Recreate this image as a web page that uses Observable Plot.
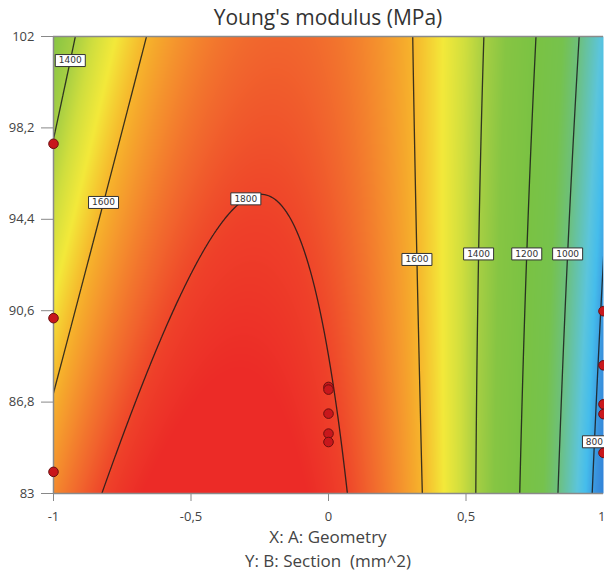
<!DOCTYPE html>
<html>
<head>
<meta charset="utf-8">
<script src="https://cdn.jsdelivr.net/npm/d3@7"></script>
<script src="https://cdn.jsdelivr.net/npm/@observablehq/plot@0.6"></script>
<style>
  body { margin: 0; background: #fff; font-family: "Open Sans", sans-serif; }
  #wrap { position: relative; width: 604px; height: 575px; overflow: hidden; }
  #chart { position: absolute; left: 0; top: 0; }
  #title { position: absolute; left: 53px; width: 550px; top: 3px; text-align: center; font-size: 21px; color: #333; }
  .cap { position: absolute; left: 53px; width: 550px; text-align: center; font-size: 17px; color: #444; }
</style>
</head>
<body>
<div id="wrap">
  <div id="chart"></div>
  <div id="title">Young's modulus (MPa)</div>
  <div class="cap" style="top:525px">X: A: Geometry</div>
  <div class="cap" style="top:549px">Y: B: Section&nbsp; (mm^2)</div>
</div>
<script>
// Factor ranges and axis ticks
const geometryDomain = [-1, 1];
const sectionDomain = [83, 102];
const xTicks = [-1, -0.5, 0, 0.5, 1];
const yTicks = [83, 86.8, 90.6, 94.4, 98.2, 102];

// Response-surface model in coded factors: Intercept, A, B, AB, A², B²
const modelTerms = ["Intercept", "A", "B", "AB", "A^2", "B^2"];
const modelCoefficients = [1778, -350, -54, 126, -630, 3.7];
const sectionCenter = 92.5;
const sectionHalfRange = 9.5;

// Contour levels (MPa)
const contourLevels = [800, 1000, 1200, 1400, 1600, 1800];

// Design points
const designGeometry = [-1, -1, -1, 0, 0, 0, 0, 0, 1, 1, 1, 1, 1];
const designSection = [97.54, 90.29, 83.90, 87.43, 87.32, 86.32, 85.49, 85.14, 90.58, 88.33, 86.71, 86.30, 84.69];

// Contour labels: level, section where the label sits, which branch of the contour
const labelLevels = [1400, 1600, 1800, 1600, 1400, 1200, 1000, 800];
const labelSections = [101.0, 95.1, 95.25, 92.73, 92.96, 92.96, 92.96, 85.15];
const labelSides = ["left", "left", "left", "right", "right", "right", "right", "right"];

// Colour ramp (blue → cyan → green → yellow → red)
const colorStops = [720, 780, 840, 890, 1000, 1080, 1200, 1320, 1400, 1460, 1525, 1600, 1680, 1750, 1810, 1870];
const colorRange = ["#2f7fd8", "#3a93de", "#45bdec", "#5cc5dc", "#6dc07e", "#76c24d", "#7ac243", "#86c543",
                    "#a7cf43", "#cfde3e", "#f3e93a", "#f6b52c", "#f48b2d", "#f1642d", "#ee4029", "#ec2b27"];

const [c0, c1, c2, c3, c4, c5] = modelCoefficients;
const coded = s => (s - sectionCenter) / sectionHalfRange;
function modulus(a, s) {
  const b = coded(s);
  return c0 + c1 * a + c2 * b + c3 * a * b + c4 * a * a + c5 * b * b;
}
// Geometry value where the model reaches `level` at a given section
function levelCrossing(level, s, side) {
  const b = coded(s);
  const qa = c4, qb = c1 + c3 * b, qc = c0 + c2 * b + c5 * b * b - level;
  const disc = Math.sqrt(Math.max(0, qb * qb - 4 * qa * qc));
  const r1 = (-qb + disc) / (2 * qa), r2 = (-qb - disc) / (2 * qa);
  return side === "left" ? Math.min(r1, r2) : Math.max(r1, r2);
}

const labels = labelLevels.map((level, i) => ({
  level,
  section: labelSections[i],
  geometry: levelCrossing(level, labelSections[i], labelSides[i])
}));
const design = designGeometry.map((g, i) => ({geometry: g, section: designSection[i]}));

const fmt = d => String(d).replace(".", ",");
const boxSymbol = (w, h) => ({draw(ctx) { ctx.rect(-w / 2, -h / 2, w, h); }});
const axisStyle = {tickSize: 8, tickPadding: 10, tickFormat: fmt, stroke: "#888", color: "#444", label: null};

const chart = Plot.plot({
  width: 604,
  height: 533,
  marginTop: 36,
  marginBottom: 40,
  marginLeft: 53,
  marginRight: 1,
  style: {fontFamily: "'Open Sans', sans-serif", fontSize: "13px", background: "transparent", overflow: "visible"},
  x: {domain: geometryDomain, label: null},
  y: {domain: sectionDomain, label: null},
  color: {type: "linear", domain: colorStops, range: colorRange, clamp: true},
  marks: [
    Plot.raster({x1: -1, x2: 1, y1: 83, y2: 102, fill: (a, s) => modulus(a, s), pixelSize: 1}),
    Plot.contour({
      x1: -1.1, x2: 1.1, y1: 82, y2: 104,
      value: (a, s) => modulus(a, s),
      thresholds: contourLevels,
      fill: "none", stroke: "#1a1a1a", strokeOpacity: 0.85, strokeWidth: 1.3,
      clip: true
    }),
    Plot.ruleX([-1], {stroke: "#8a8a8a", strokeWidth: 1.5}),
    Plot.ruleY([83, 102], {stroke: "#8a8a8a", strokeWidth: 1.5}),
    Plot.dot(labels.filter(d => d.level >= 1000), {
      x: "geometry", y: "section", symbol: boxSymbol(30, 12), r: 5,
      fill: "white", stroke: "#333", strokeWidth: 1
    }),
    Plot.dot(labels.filter(d => d.level < 1000), {
      x: "geometry", y: "section", symbol: boxSymbol(24, 12), r: 5,
      fill: "white", stroke: "#333", strokeWidth: 1
    }),
    Plot.text(labels, {
      x: "geometry", y: "section", text: d => String(d.level),
      fontSize: 9, fill: "#333", fontFamily: "'DejaVu Sans', sans-serif"
    }),
    Plot.dot(design, {
      x: "geometry", y: "section", r: 4.8,
      fill: "#c8171c", stroke: "#6b0f0f", strokeWidth: 1
    }),
    Plot.axisX(xTicks.slice(0, -1), axisStyle),
    Plot.axisX(xTicks.slice(-1), {...axisStyle, textAnchor: "end", dx: 2}),
    Plot.axisY(yTicks, {tickSize: 12, tickPadding: 7, tickFormat: fmt, stroke: "#888", color: "#444", label: null})
  ]
});
document.getElementById("chart").appendChild(chart);
</script>
</body>
</html>
